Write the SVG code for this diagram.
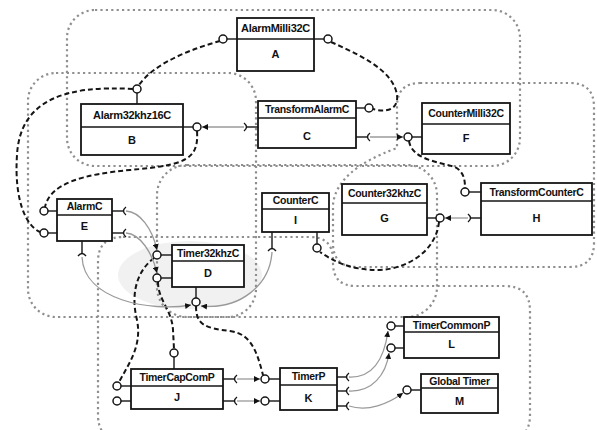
<svg xmlns="http://www.w3.org/2000/svg" width="597" height="430" viewBox="0 0 597 430">
<style>
.grp{fill:none;stroke:#8f8f8f;stroke-width:2.2;stroke-dasharray:2.2 3.2}
.box{fill:#fff;stroke:#151515;stroke-width:1.8}
.div{stroke:#151515;stroke-width:1.6}
.t{font-family:"Liberation Sans",Arial,sans-serif;font-weight:bold;font-size:10.5px;text-anchor:middle;letter-spacing:-0.3px;fill:#111}
.l{font-family:"Liberation Sans",Arial,sans-serif;font-weight:bold;font-size:11px;text-anchor:middle;fill:#111}
.stem{stroke:#151515;stroke-width:1.4}
.lol{fill:#fff;stroke:#151515;stroke-width:1.5}
.cup{fill:none;stroke:#151515;stroke-width:1.4}
.dash{fill:none;stroke:#151515;stroke-width:2;stroke-dasharray:5 3}
.thin{fill:none;stroke:#9a9a9a;stroke-width:1.3;marker-end:url(#ah)}
</style>
<defs>
<marker id="ah" viewBox="0 0 10 10" refX="10" refY="5" markerWidth="6" markerHeight="6" markerUnits="userSpaceOnUse" orient="auto"><path d="M0,0 L10,5 L0,10 z" fill="#111"/></marker>
</defs>
<rect width="597" height="430" fill="#fff"/>
<g id="groups">
<ellipse cx="190" cy="275" rx="72" ry="34" fill="#f1f1f1"/>
<path class="grp" d="M420,83 L570,83 Q594,83 594,107 L594,243 Q594,267 570,267 L357,267 Q333,267 333,243 L333,205 Q336,170 397,148 L397,107 Q397,83 420,83 Z"/>
<rect class="grp" x="67" y="10" width="453" height="156" rx="28"/>
<rect class="grp" x="28" y="73" width="228" height="244" rx="28"/>
<rect class="grp" x="157" y="165" width="280" height="152" rx="30"/>
<path class="grp" d="M123,237 L310,237 Q333,237 333,260 L333,263 Q333,286 356,286 L505,286 Q530,286 530,311 L530,415 Q530,440 505,440 L123,440 Q98,440 98,415 L98,262 Q98,237 123,237 Z"/>
</g>
<g id="connectors">
<path class="dash" d="M220,41 C195,48 155,62 139,85"/>
<path class="dash" d="M133,89 C65,85 20,100 17,155 C14,200 26,226 40,232"/>
<path class="dash" d="M197,131 C199,160 185,165 130,170 C85,174 50,183 45,207"/>
<path class="dash" d="M331,42 C360,55 393,70 397,95 C399,110 385,113 373,109"/>
<path class="dash" d="M409,141 C412,160 440,162 455,167 C464,172 465,180 465,188"/>
<path class="dash" d="M439,222 C436,250 410,268 380,270 C350,270 335,262 320,252"/>
<path class="dash" d="M154,258 C138,270 130,292 137,320 C142,345 130,362 119,382"/>
<path class="dash" d="M158,282 C158,300 172,310 173,330 L174,349"/>
<path class="dash" d="M196,306 C196,325 205,328 230,331 C250,334 256,348 263,375"/>
<path class="thin" d="M244,127 L202,127"/>
<path class="thin" d="M370,137 L403,137"/>
<path class="thin" d="M468,218 L445,218"/>
<path class="thin" d="M126,211 C140,212 152,228 157,250"/>
<path class="thin" d="M126,233 C140,234 152,252 157,273"/>
<path class="thin" d="M82,257 C84,300 150,312 191,305"/>
<path class="thin" d="M272,252 C270,285 240,310 201,306"/>
<path class="thin" d="M237,379 L260,379"/>
<path class="thin" d="M237,401 L260,401"/>
<path class="thin" d="M349,377 C372,378 384,360 388,331"/>
<path class="thin" d="M349,391 C372,392 386,375 389,353"/>
<path class="thin" d="M349,406 C368,412 388,404 403,393"/>
</g>
<g id="node-A">
<rect class="box" x="237" y="18" width="77" height="53"/><line class="div" x1="237" y1="39" x2="314" y2="39"/>
<text class="t" x="275.5" y="32" style="font-size:11px">AlarmMilli32C</text><text class="l" x="275.5" y="58">A</text>
<line class="stem" x1="227" y1="39" x2="237" y2="39"/><circle class="lol" cx="223" cy="39" r="4"/>
<line class="stem" x1="314" y1="39" x2="324" y2="39"/><circle class="lol" cx="328" cy="39" r="4"/>
</g>
<g id="node-B">
<rect class="box" x="81" y="104" width="102" height="51"/><line class="div" x1="81" y1="127" x2="183" y2="127"/>
<text class="t" x="132" y="119" style="font-size:11px">Alarm32khz16C</text><text class="l" x="132" y="144">B</text>
<line class="stem" x1="137" y1="93" x2="137" y2="104"/><circle class="lol" cx="137" cy="89" r="4"/>
<line class="stem" x1="183" y1="127" x2="193" y2="127"/><circle class="lol" cx="197" cy="127" r="4"/>
</g>
<g id="node-C">
<rect class="box" x="258" y="101" width="98" height="47"/><line class="div" x1="258" y1="118" x2="356" y2="118"/>
<text class="t" x="307" y="113">TransformAlarmC</text><text class="l" x="307" y="140">C</text>
<line class="stem" x1="258" y1="127" x2="246" y2="127"/><path class="cup" d="M244,123 Q249,127 244,131"/>
<line class="stem" x1="356" y1="108" x2="365" y2="108"/><circle class="lol" cx="369" cy="108" r="4"/>
<line class="stem" x1="356" y1="137" x2="368" y2="137"/><path class="cup" d="M370,133 Q365,137 370,141"/>
</g>
<g id="node-F">
<rect class="box" x="422" y="103" width="88" height="51"/><line class="div" x1="422" y1="124" x2="510" y2="124"/>
<text class="t" x="466" y="117">CounterMilli32C</text><text class="l" x="466" y="142">F</text>
<line class="stem" x1="412" y1="137" x2="422" y2="137"/><circle class="lol" cx="408" cy="137" r="4"/>
</g>
<g id="node-H">
<rect class="box" x="481" y="183" width="111" height="52"/><line class="div" x1="481" y1="201" x2="592" y2="201"/>
<text class="t" x="536.5" y="196">TransformCounterC</text><text class="l" x="536.5" y="222">H</text>
<line class="stem" x1="469" y1="192" x2="481" y2="192"/><circle class="lol" cx="465" cy="192" r="4"/>
<line class="stem" x1="481" y1="218" x2="470" y2="218"/><path class="cup" d="M468,214 Q473,218 468,222"/>
</g>
<g id="node-G">
<rect class="box" x="342" y="184" width="85" height="51"/><line class="div" x1="342" y1="203" x2="427" y2="203"/>
<text class="t" x="384.5" y="197">Counter32khzC</text><text class="l" x="384.5" y="222">G</text>
<line class="stem" x1="427" y1="218" x2="436" y2="218"/><circle class="lol" cx="440" cy="218" r="4"/>
</g>
<g id="node-I">
<rect class="box" x="262" y="193" width="67" height="39"/><line class="div" x1="262" y1="209" x2="329" y2="209"/>
<text class="t" x="295.5" y="204">CounterC</text><text class="l" x="295.5" y="224">I</text>
<line class="stem" x1="272" y1="232" x2="272" y2="249"/><path class="cup" d="M268,251 Q272,246 276,251"/>
<line class="stem" x1="317" y1="232" x2="317" y2="244"/><circle class="lol" cx="317" cy="248" r="4"/>
</g>
<g id="node-E">
<rect class="box" x="57" y="199" width="55" height="42"/><line class="div" x1="57" y1="215" x2="112" y2="215"/>
<text class="t" x="84.5" y="210">AlarmC</text><text class="l" x="84.5" y="230">E</text>
<line class="stem" x1="48" y1="211" x2="57" y2="211"/><circle class="lol" cx="44" cy="211" r="4"/>
<line class="stem" x1="48" y1="233" x2="57" y2="233"/><circle class="lol" cx="44" cy="233" r="4"/>
<line class="stem" x1="112" y1="211" x2="124" y2="211"/><path class="cup" d="M126,207 Q121,211 126,215"/>
<line class="stem" x1="112" y1="233" x2="124" y2="233"/><path class="cup" d="M126,229 Q121,233 126,237"/>
<line class="stem" x1="82" y1="241" x2="82" y2="254"/><path class="cup" d="M78,256 Q82,251 86,256"/>
</g>
<g id="node-D">
<rect class="box" x="172" y="245" width="72" height="42"/><line class="div" x1="172" y1="261" x2="244" y2="261"/>
<text class="t" x="208" y="257">Timer32khzC</text><text class="l" x="208" y="277">D</text>
<line class="stem" x1="161" y1="255" x2="172" y2="255"/><circle class="lol" cx="157" cy="255" r="4"/>
<line class="stem" x1="161" y1="278" x2="172" y2="278"/><circle class="lol" cx="157" cy="278" r="4"/>
<line class="stem" x1="196" y1="287" x2="196" y2="298"/><circle class="lol" cx="196" cy="302" r="4"/>
</g>
<g id="node-J">
<rect class="box" x="131" y="369" width="92" height="40"/><line class="div" x1="131" y1="386" x2="223" y2="386"/>
<text class="t" x="177" y="381">TimerCapComP</text><text class="l" x="177" y="401">J</text>
<line class="stem" x1="174" y1="357" x2="174" y2="369"/><circle class="lol" cx="174" cy="353" r="4"/>
<line class="stem" x1="121" y1="386" x2="131" y2="386"/><circle class="lol" cx="117" cy="386" r="4"/>
<line class="stem" x1="121" y1="401" x2="131" y2="401"/><circle class="lol" cx="117" cy="401" r="4"/>
<line class="stem" x1="223" y1="379" x2="235" y2="379"/><path class="cup" d="M237,375 Q232,379 237,383"/>
<line class="stem" x1="223" y1="401" x2="235" y2="401"/><path class="cup" d="M237,397 Q232,401 237,405"/>
</g>
<g id="node-K">
<rect class="box" x="280" y="368" width="57" height="42"/><line class="div" x1="280" y1="385" x2="337" y2="385"/>
<text class="t" x="308.5" y="380">TimerP</text><text class="l" x="308.5" y="402">K</text>
<line class="stem" x1="269" y1="379" x2="280" y2="379"/><circle class="lol" cx="265" cy="379" r="4"/>
<line class="stem" x1="269" y1="401" x2="280" y2="401"/><circle class="lol" cx="265" cy="401" r="4"/>
<line class="stem" x1="337" y1="377" x2="347" y2="377"/><path class="cup" d="M349,373 Q344,377 349,381"/>
<line class="stem" x1="337" y1="391" x2="347" y2="391"/><path class="cup" d="M349,387 Q344,391 349,395"/>
<line class="stem" x1="337" y1="406" x2="347" y2="406"/><path class="cup" d="M349,402 Q344,406 349,410"/>
</g>
<g id="node-L">
<rect class="box" x="404" y="317" width="95" height="41"/><line class="div" x1="404" y1="332" x2="499" y2="332"/>
<text class="t" x="451.5" y="328.5">TimerCommonP</text><text class="l" x="451.5" y="348">L</text>
<line class="stem" x1="395" y1="326" x2="404" y2="326"/><circle class="lol" cx="391" cy="326" r="4"/>
<line class="stem" x1="395" y1="348" x2="404" y2="348"/><circle class="lol" cx="391" cy="348" r="4"/>
</g>
<g id="node-M">
<rect class="box" x="421" y="374" width="77" height="39"/><line class="div" x1="421" y1="388" x2="498" y2="388"/>
<text class="t" x="459.5" y="385">Global Timer</text><text class="l" x="459.5" y="405">M</text>
<line class="stem" x1="411" y1="390" x2="421" y2="390"/><circle class="lol" cx="407" cy="390" r="4"/>
</g>
</svg>
